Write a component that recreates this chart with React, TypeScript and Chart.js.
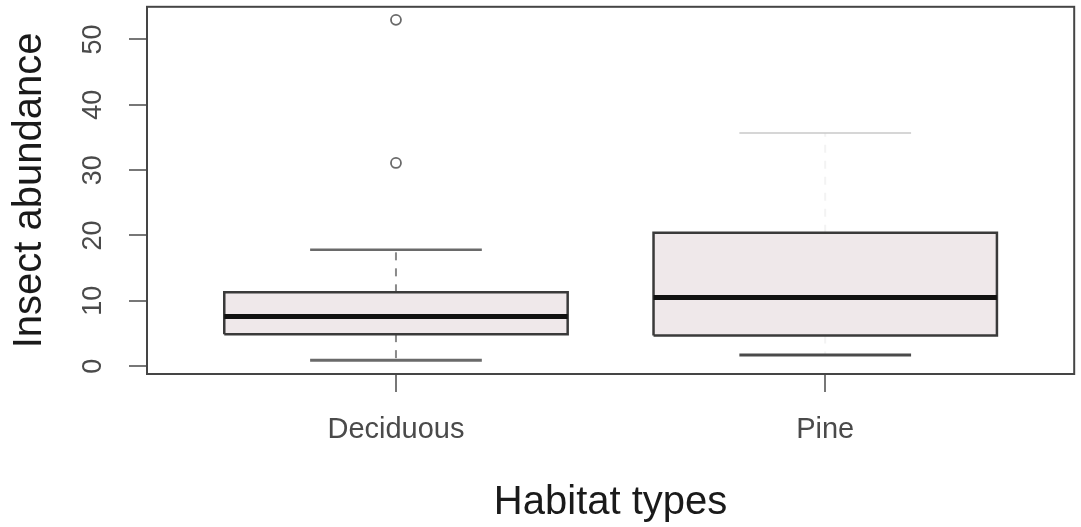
import React, { useEffect, useRef } from "react";
import { Chart, registerables } from "chart.js";

Chart.register(...registerables);

// ---- data ----
const categories = ["Deciduous", "Pine"];
const categoryPositions = [1, 2];
const lowerWhisker = [0.9, 1.7];
const firstQuartile = [4.9, 4.7];
const medians = [7.6, 10.5];
const thirdQuartile = [11.3, 20.4];
const upperWhisker = [17.8, 35.7];
const outlierValues: number[][] = [[31.1, 53.0], []];
const yTickValues = [0, 10, 20, 30, 40, 50];

// ---- styling ----
const BOX_HALF = 0.4;
const CAP_HALF = 0.2;
const whiskerDashColor = ["#8a8a8a", "#f3f3f3"];
const lowerCapColor = ["#6a6a6a", "#4a4a4a"];
const upperCapColor = ["#6a6a6a", "#c8c8c8"];
const FONT = "'Liberation Sans', Arial, sans-serif";

const frame = {
  id: "frame",
  afterDatasetsDraw(chart: any) {
    const { ctx, chartArea } = chart;
    ctx.save();
    ctx.strokeStyle = "#454545";
    ctx.lineWidth = 2;
    ctx.strokeRect(chartArea.left, chartArea.top, chartArea.right - chartArea.left, chartArea.bottom - chartArea.top);
    ctx.restore();
  },
};

function buildDatasets() {
  const ds: any[] = [];
  const line = (data: any[], color: string, width: number, extra: any = {}) => ({
    type: "line",
    data,
    borderColor: color,
    borderWidth: width,
    pointRadius: 0,
    pointHoverRadius: 0,
    tension: 0,
    fill: false,
    ...extra,
  });
  categories.forEach((_, i) => {
    const x = categoryPositions[i];
    // whiskers (dashed)
    ds.push(line([{ x, y: thirdQuartile[i] }, { x, y: upperWhisker[i] }], whiskerDashColor[i], 2, { borderDash: [8, 8] }));
    ds.push(line([{ x, y: firstQuartile[i] }, { x, y: lowerWhisker[i] }], whiskerDashColor[i], 2, { borderDash: [8, 8] }));
    // caps
    ds.push(line([{ x: x - CAP_HALF, y: upperWhisker[i] }, { x: x + CAP_HALF, y: upperWhisker[i] }], upperCapColor[i], i === 1 ? 1.5 : 2.5));
    ds.push(line([{ x: x - CAP_HALF, y: lowerWhisker[i] }, { x: x + CAP_HALF, y: lowerWhisker[i] }], lowerCapColor[i], 3));
    // box
    ds.push(
      line(
        [
          { x: x - BOX_HALF, y: firstQuartile[i] },
          { x: x + BOX_HALF, y: firstQuartile[i] },
          { x: x + BOX_HALF, y: thirdQuartile[i] },
          { x: x - BOX_HALF, y: thirdQuartile[i] },
          { x: x - BOX_HALF, y: firstQuartile[i] },
        ],
        "#3a3a3a",
        2.5,
        { fill: "shape", backgroundColor: "#efe8ea" }
      )
    );
    // median
    ds.push(line([{ x: x - BOX_HALF, y: medians[i] }, { x: x + BOX_HALF, y: medians[i] }], "#111111", 5));
    // outliers
    if (outlierValues[i].length) {
      ds.push({
        type: "scatter",
        data: outlierValues[i].map((v) => ({ x, y: v })),
        showLine: false,
        pointRadius: 5,
        pointStyle: "circle",
        borderColor: "#6a6a6a",
        borderWidth: 1.8,
        backgroundColor: "rgba(0,0,0,0)",
      });
    }
  });
  // Chart.js paints the first dataset last; reverse so later pushes are on top
  return ds.reverse();
}

export default function App() {
  const ref = useRef<HTMLCanvasElement | null>(null);
  useEffect(() => {
    document.body.style.margin = "0";
    if (!ref.current) return;
    const chart = new Chart(ref.current, {
      type: "scatter",
      data: { datasets: buildDatasets() },
      options: {
        animation: false,
        responsive: true,
        maintainAspectRatio: false,
        layout: { padding: { top: 5, right: 4, left: 0, bottom: 0 } },
        plugins: { legend: { display: false }, tooltip: { enabled: false } },
        scales: {
          x: {
            type: "linear",
            min: 0.42,
            max: 2.58,
            afterBuildTicks: (s: any) => {
              s.ticks = categoryPositions.map((v) => ({ value: v }));
            },
            afterFit: (s: any) => {
              s.height = 153;
              s.paddingLeft = 0;
              s.paddingRight = 0;
            },
            ticks: {
              callback: (v: any) => categories[categoryPositions.indexOf(Number(v))] ?? "",
              font: { family: FONT, size: 29 },
              color: "#4a4a4a",
              padding: 21,
              maxRotation: 0,
              minRotation: 0,
              autoSkip: false,
            },
            grid: { display: true, drawOnChartArea: false, drawTicks: true, tickLength: 18, color: "#777777", lineWidth: 2 },
            border: { display: false },
            title: {
              display: true,
              text: "Habitat types",
              font: { family: FONT, size: 40 },
              color: "#1a1a1a",
              padding: { top: 0, bottom: 0 },
            },
          },
          y: {
            type: "linear",
            min: -1.2,
            max: 55,
            afterBuildTicks: (s: any) => {
              s.ticks = yTickValues.map((v) => ({ value: v }));
            },
            afterFit: (s: any) => {
              s.width = 147;
              s.paddingTop = 0;
              s.paddingBottom = 0;
            },
            ticks: {
              font: { family: FONT, size: 27 },
              color: "#4a4a4a",
              padding: 20,
              minRotation: 90,
              maxRotation: 90,
              crossAlign: "center",
              autoSkip: false,
            },
            grid: { display: true, drawOnChartArea: false, drawTicks: true, tickLength: 18, color: "#777777", lineWidth: 2 },
            border: { display: false },
            title: {
              display: true,
              text: "Insect abundance",
              font: { family: FONT, size: 40 },
              color: "#1a1a1a",
              padding: { top: 6, bottom: 0 },
            },
          },
        },
      },
      plugins: [frame],
    } as any);
    return () => chart.destroy();
  }, []);
  return (
    <div style={{ width: 1081, height: 527, position: "relative" }}>
      <canvas ref={ref} />
    </div>
  );
}
